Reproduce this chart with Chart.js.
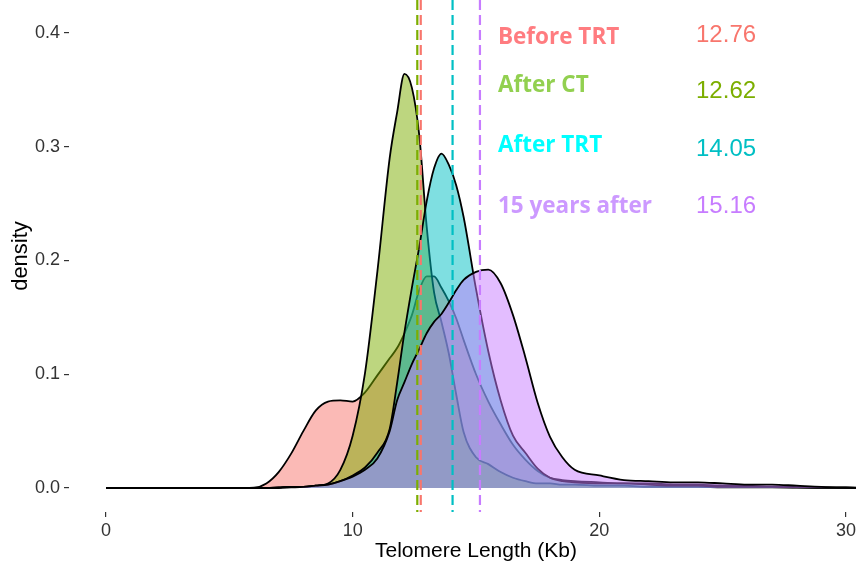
<!DOCTYPE html>
<html>
<head>
<meta charset="utf-8">
<script src="https://cdn.jsdelivr.net/npm/chart.js@4/dist/chart.umd.min.js"></script>
<style>
  html, body { margin: 0; padding: 0; background: #fff; overflow: hidden; }
  #wrap { width: 856px; height: 566px; overflow: hidden; }
</style>
</head>
<body>
<div id="wrap"><canvas id="myChart" width="883" height="566"></canvas></div>
<script>
// groups and their mean telomere length
var groups = ['Before TRT', 'After CT', 'After TRT', '15 years after'];
var means = [12.76, 12.62, 14.05, 15.16];

// density curves, on a shared grid of lengths (Kb)
var lengthKb = [0, 5, 6, 6.5, 7, 7.5, 8, 8.5, 9, 9.5, 10, 10.5, 11, 11.5, 11.8, 12.1, 12.4, 12.7, 13.0, 13.3, 13.6, 13.9, 14.2, 14.5, 15, 15.5, 16, 16.5, 17, 17.5, 18, 18.5, 19, 20, 21, 22, 23, 24, 25, 26, 27, 28, 29, 30, 31, 31.5];
var beforeTRT = [0, 0, 0.0003, 0.004, 0.014, 0.030, 0.050, 0.068, 0.076, 0.077, 0.076, 0.084, 0.099, 0.114, 0.123, 0.136, 0.152, 0.174, 0.186, 0.186, 0.176, 0.164, 0.149, 0.130, 0.100, 0.076, 0.056, 0.038, 0.025, 0.015, 0.009, 0.007, 0.006, 0.005, 0.004, 0.004, 0.003, 0.003, 0.002, 0.002, 0.001, 0.001, 0.0005, 0.0003, 0, 0];
var afterCT = [0, 0, 0, 0, 0.0005, 0.001, 0.001, 0.002, 0.004, 0.016, 0.046, 0.101, 0.19, 0.29, 0.33, 0.364, 0.352, 0.31, 0.23, 0.172, 0.146, 0.118, 0.082, 0.049, 0.027, 0.021, 0.014, 0.009, 0.006, 0.004, 0.004, 0.003, 0.003, 0.002, 0.002, 0.001, 0.001, 0.001, 0.0005, 0.0005, 0.0005, 0.0003, 0.0002, 0.0001, 0, 0];
var afterTRT = [0, 0, 0, 0, 0.0005, 0.001, 0.001, 0.002, 0.003, 0.006, 0.011, 0.018, 0.031, 0.052, 0.092, 0.137, 0.176, 0.212, 0.252, 0.281, 0.294, 0.284, 0.266, 0.238, 0.175, 0.12, 0.077, 0.046, 0.031, 0.017, 0.009, 0.006, 0.005, 0.004, 0.004, 0.003, 0.002, 0.002, 0.001, 0.001, 0.001, 0.0005, 0.0003, 0.0002, 0, 0];
var years15 = [0, 0, 0, 0, 0, 0.0005, 0.001, 0.002, 0.003, 0.006, 0.01, 0.016, 0.026, 0.05, 0.077, 0.093, 0.109, 0.122, 0.136, 0.146, 0.153, 0.163, 0.174, 0.183, 0.19, 0.192, 0.18, 0.152, 0.115, 0.075, 0.045, 0.027, 0.016, 0.011, 0.007, 0.006, 0.005, 0.005, 0.004, 0.003, 0.003, 0.002, 0.001, 0.0005, 0.0002, 0];

var xTicks = [0, 10, 20, 30];
var yTicks = [0, 0.1, 0.2, 0.3, 0.4];

var hues = ['#F8766D', '#7CAE00', '#00BFC4', '#C77CFF'];
var fills = ['rgba(248,118,109,0.5)', 'rgba(124,174,0,0.5)', 'rgba(0,191,196,0.5)', 'rgba(199,124,255,0.5)'];
var labelColors = ['#FF7C80', '#92D050', '#00FFFF', '#CC99FF'];

function points(ys) {
  return lengthKb.map(function (x, i) { return { x: x, y: ys[i] }; });
}

var series = [beforeTRT, afterCT, afterTRT, years15];
var datasets = series.map(function (ys, i) {
  return {
    label: groups[i],
    data: points(ys),
    borderColor: '#000',
    borderWidth: 1.8,
    backgroundColor: fills[i],
    fill: 'origin',
    pointRadius: 0,
    cubicInterpolationMode: 'monotone',
    order: series.length - i   // later groups drawn on top, like ggplot
  };
});

// dashed lines at the group means
var meanLines = {
  id: 'meanLines',
  afterDatasetsDraw: function (chart) {
    var ctx = chart.ctx, xs = chart.scales.x, area = chart.chartArea;
    ctx.save();
    ctx.lineWidth = 2.2;
    ctx.setLineDash([10, 5]);
    means.forEach(function (m, i) {
      var px = xs.getPixelForValue(m);
      ctx.strokeStyle = hues[i];
      ctx.beginPath();
      ctx.moveTo(px, area.top);
      ctx.lineTo(px, area.bottom);
      ctx.stroke();
    });
    ctx.restore();
  }
};

// group names and mean values written on the right
var notes = {
  id: 'notes',
  afterDraw: function (chart) {
    var ctx = chart.ctx, xs = chart.scales.x, ys = chart.scales.y;
    var nameY = [0.3903, 0.3481, 0.2954, 0.2418];
    var valueY = [0.3921, 0.3429, 0.2919, 0.2418];
    ctx.save();
    ctx.textBaseline = 'alphabetic';
    ctx.textAlign = 'left';
    groups.forEach(function (g, i) {
      ctx.font = 'bold 22.5px "Open Sans"';
      ctx.fillStyle = labelColors[i];
      ctx.fillText(g, xs.getPixelForValue(15.89), ys.getPixelForValue(nameY[i]));
      ctx.font = '24px "Liberation Sans"';
      ctx.fillStyle = hues[i];
      ctx.fillText(means[i].toFixed(2), xs.getPixelForValue(23.92), ys.getPixelForValue(valueY[i]));
    });
    ctx.restore();
  }
};

var axisFont = { family: 'Liberation Sans', size: 18 };

var ctx = document.getElementById('myChart').getContext('2d');
var myChart = new Chart(ctx, {
  type: 'line',
  data: { datasets: datasets },
  options: {
    responsive: false,
    animation: false,
    events: [],
    layout: { padding: 0 },
    plugins: { legend: { display: false }, tooltip: { enabled: false } },
    scales: {
      x: {
        type: 'linear',
        min: -1.5,
        max: 31.5,
        afterBuildTicks: function (s) { s.ticks = xTicks.map(function (v) { return { value: v }; }); },
        afterFit: function (s) { s.height = 54; s.paddingLeft = 0; s.paddingRight = 0; },
        border: { display: false },
        grid: { drawOnChartArea: false, drawTicks: true, tickLength: 5, tickColor: '#333', lineWidth: 1.2 },
        ticks: { padding: 3, autoSkip: false, maxRotation: 0, color: '#333', font: axisFont },
        title: { display: true, text: 'Telomere Length (Kb)', color: '#000', font: { family: 'Liberation Sans', size: 21 }, padding: { top: 0, bottom: 2 } }
      },
      y: {
        min: -0.0211,
        max: 0.429,
        afterBuildTicks: function (s) { s.ticks = yTicks.map(function (v) { return { value: v }; }); },
        afterFit: function (s) { s.width = 69; s.paddingTop = 0; s.paddingBottom = 0; },
        border: { display: false },
        grid: { drawOnChartArea: false, drawTicks: true, tickLength: 5, tickColor: '#333', lineWidth: 1.2 },
        ticks: { padding: 4, color: '#333', font: axisFont, callback: function (v) { return v.toFixed(1); } },
        title: { display: true, text: 'density', color: '#000', font: { family: 'Liberation Sans', size: 22 }, padding: { top: 8, bottom: 0 } }
      }
    }
  },
  plugins: [meanLines, notes]
});
</script>
</body>
</html>
